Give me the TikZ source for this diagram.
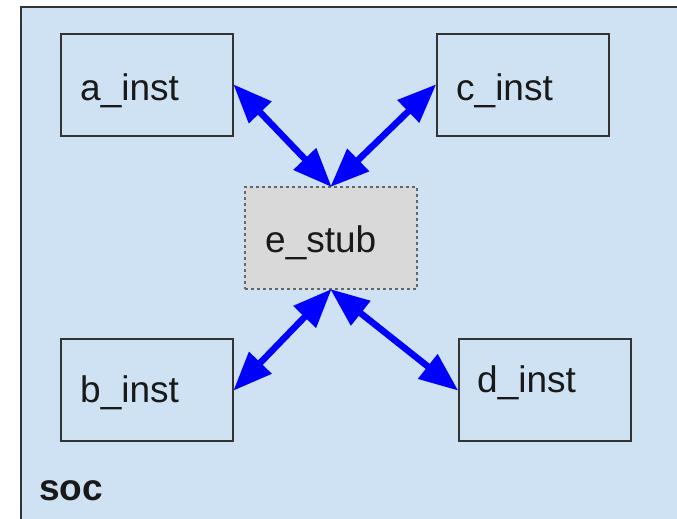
\documentclass[tikz,border=0pt]{standalone}
\usepackage{fontspec}
\setmainfont{Liberation Sans}
\usetikzlibrary{arrows.meta}
\definecolor{socfill}{HTML}{CFE2F3}
\definecolor{stubfill}{HTML}{D9D9D9}
\definecolor{edgegray}{HTML}{333333}
\definecolor{dashgray}{HTML}{666666}
\definecolor{arrowblue}{HTML}{0000FF}
\tikzset{
  instbox/.style={draw=edgegray, line width=2pt, fill=socfill, minimum width=172pt, minimum height=102pt, inner sep=0pt},
  stubbox/.style={draw=dashgray, line width=1.3pt, dash pattern=on 3pt off 3pt, fill=stubfill, minimum width=172pt, minimum height=102pt, inner sep=0pt},
  lbl/.style={anchor=base west, inner sep=0pt, font=\fontsize{37}{40}\selectfont, text=black!90},
  link/.style={draw=arrowblue, line width=6.5pt, {Triangle[length=39pt,width=30pt]}-{Triangle[length=39pt,width=30pt]}, shorten <=-1pt, shorten >=-1pt}
}
\begin{document}
\begin{tikzpicture}[x=1pt,y=-1pt]
\path[clip] (0,0) rectangle (677,519);
\fill[white] (0,0) rectangle (677,519);
\draw[draw=edgegray, line width=2.2pt, fill=socfill] (21,7) rectangle (720,560);
\node[instbox] (a) at (147,85) {};
\node[instbox] (c) at (522.5,85) {};
\node[stubbox] (e) at (331,238) {};
\node[instbox] (b) at (147,390) {};
\node[instbox] (d) at (544.5,390) {};
\node[lbl] (at) at (80,100) {a\_inst};
\node[lbl] (ct) at (456,100) {c\_inst};
\node[lbl] (et) at (265,252) {e\_stub};
\node[lbl] (bt) at (80,402) {b\_inst};
\node[lbl] (dt) at (477,392) {d\_inst};
\node[lbl, font=\fontsize{37}{40}\selectfont\bfseries] (soc) at (39,500) {soc};
\draw[link] (a.east) -- (e.north);
\draw[link] (c.west) -- (e.north);
\draw[link] (e.south) -- (b.east);
\draw[link] (e.south) -- (d.west);
\end{tikzpicture}
\end{document}
